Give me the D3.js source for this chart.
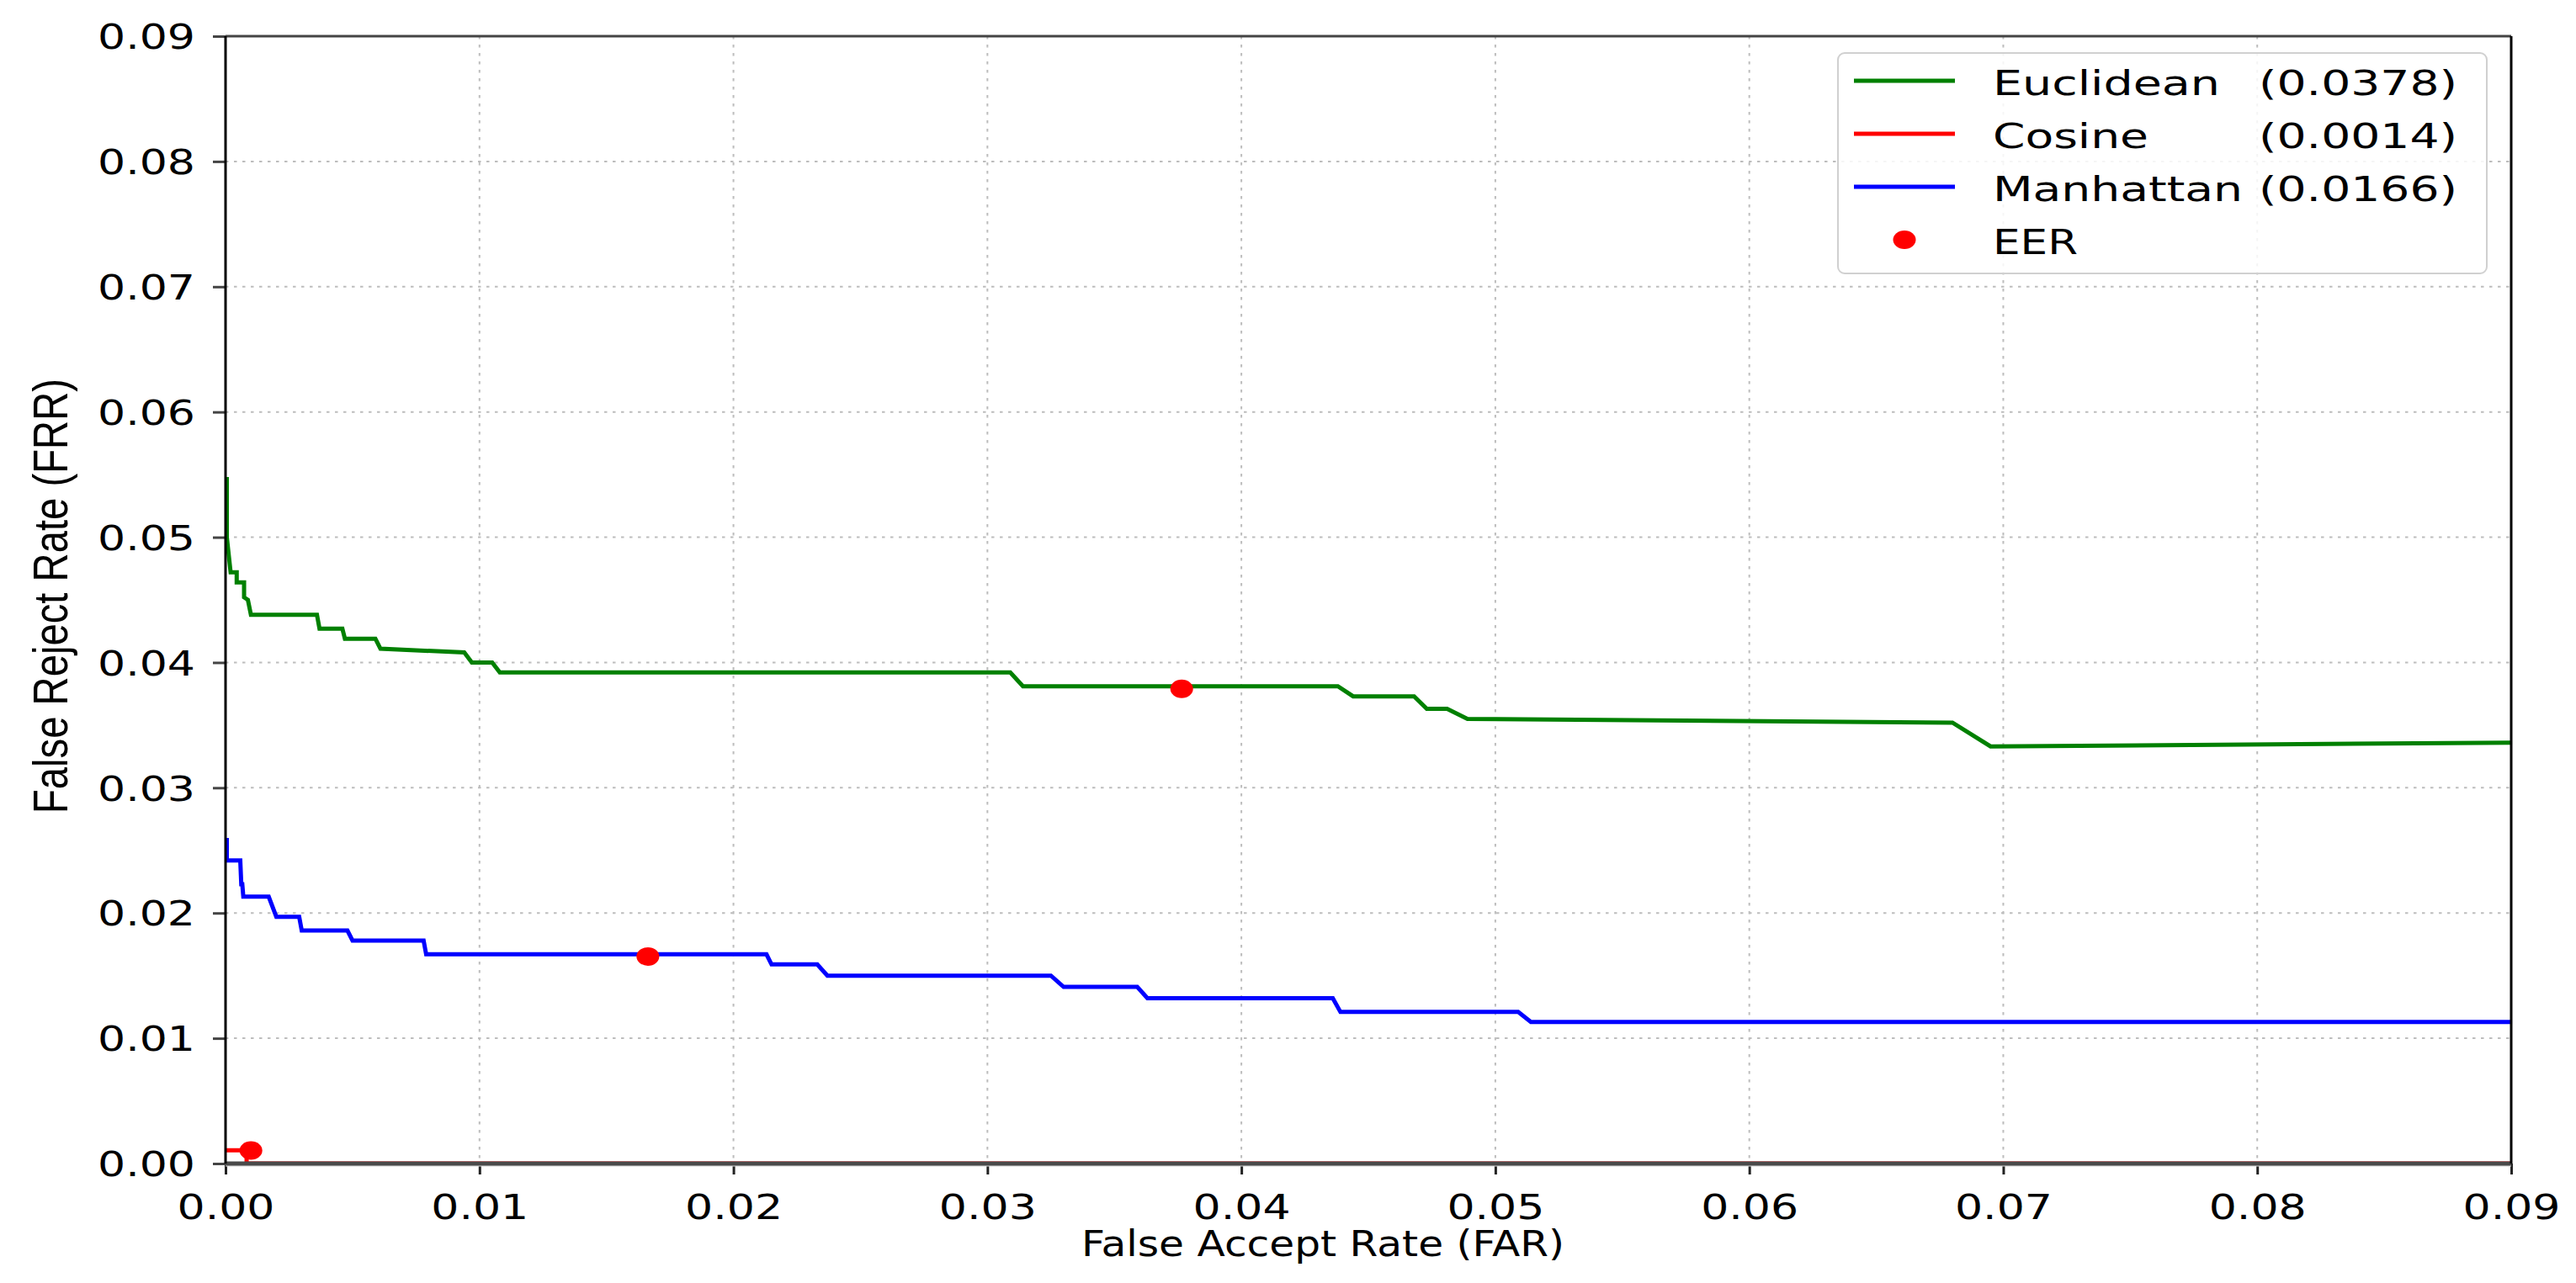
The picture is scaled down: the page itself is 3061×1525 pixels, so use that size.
<!DOCTYPE html>
<html>
<head>
<meta charset="utf-8">
<style>
body { margin: 0; background: #fff; }
.grid line { stroke: #bdbdbd; stroke-width: 2; stroke-dasharray: 3.5,6.5; }
.tick-label { font-family: "DejaVu Sans", sans-serif; font-size: 41px; fill: #000; }
</style>
</head>
<body>
<svg width="3061" height="1525"></svg>
<script src="https://cdn.jsdelivr.net/npm/d3@7"></script>
<script>
// tick values on both axes
var farTicks = [0, 0.01, 0.02, 0.03, 0.04, 0.05, 0.06, 0.07, 0.08, 0.09];
var frrTicks = [0, 0.01, 0.02, 0.03, 0.04, 0.05, 0.06, 0.07, 0.08, 0.09];

// curves: [FAR, FRR]
var euclidean = [[0.00005,0.0548],[0.00005,0.0500],[0.0002,0.0472],[0.00044,0.0472],[0.00044,0.0464],
  [0.00073,0.0464],[0.00073,0.0452],[0.00088,0.0450],[0.0010,0.0438],[0.0036,0.0438],[0.0037,0.0427],
  [0.0046,0.0427],[0.0047,0.0419],[0.0059,0.0419],[0.0061,0.0411],[0.0094,0.0408],[0.0097,0.0400],
  [0.0105,0.0400],[0.0108,0.0392],[0.0309,0.0392],[0.0314,0.0381],[0.0438,0.0381],[0.0444,0.0373],
  [0.0468,0.0373],[0.0473,0.0363],[0.0481,0.0363],[0.0489,0.0355],[0.0680,0.0352],[0.0695,0.0333],
  [0.09,0.0336]];
var cosine = [[0,0.00105],[0.00083,0.00105],[0.00083,0],[0.09,0]];
var manhattan = [[0.00005,0.0260],[0.00005,0.0242],[0.00058,0.0242],[0.00062,0.0223],[0.00066,0.0223],
  [0.00070,0.0213],[0.0017,0.0213],[0.0020,0.0197],[0.0029,0.0197],[0.0030,0.0186],[0.0048,0.0186],
  [0.0050,0.0178],[0.0078,0.0178],[0.0079,0.0167],[0.0213,0.0167],[0.0215,0.0159],[0.0233,0.0159],
  [0.0237,0.0150],[0.0325,0.0150],[0.0330,0.0141],[0.0359,0.0141],[0.0363,0.0132],[0.0436,0.0132],
  [0.0439,0.0121],[0.0509,0.0121],[0.0514,0.0113],[0.09,0.0113]];

var names = ["Euclidean", "Cosine", "Manhattan"];
var eerLabels = ["(0.0378)", "(0.0014)", "(0.0166)"];
var colors = ["#008000", "#ff0000", "#0000ff"];
var eerPoints = [[0.03765, 0.0379], [0.0010, 0.00104], [0.01663, 0.01653]];

var svg = d3.select("svg");
var margin = {left: 268, right: 77, top: 43, bottom: 142};
var width = 3061 - margin.left - margin.right,
    height = 1525 - margin.top - margin.bottom;

var x = d3.scaleLinear().domain([0, 0.09]).range([0, width]);
var y = d3.scaleLinear().domain([0, 0.09]).range([height, 0]);

var g = svg.append("g").attr("transform", "translate(" + margin.left + "," + margin.top + ")");

// grid
var grid = g.append("g").attr("class", "grid");
grid.selectAll("line.v").data(farTicks.slice(1, -1)).enter().append("line")
    .attr("x1", x).attr("x2", x).attr("y1", 0).attr("y2", height);
grid.selectAll("line.h").data(frrTicks.slice(1, -1)).enter().append("line")
    .attr("y1", y).attr("y2", y).attr("x1", 0).attr("x2", width);

// curves
var line = d3.line().x(function(d) { return x(d[0]); }).y(function(d) { return y(d[1]); });
var curves = [euclidean, cosine, manhattan];
g.selectAll("path.curve").data(curves).enter().append("path")
    .attr("class", "curve")
    .attr("d", line)
    .attr("fill", "none")
    .attr("stroke", function(d, i) { return colors[i]; })
    .attr("stroke-width", 5)
    .attr("stroke-linejoin", "miter");

// EER markers
g.selectAll("ellipse.eer").data(eerPoints).enter().append("ellipse")
    .attr("cx", function(d) { return x(d[0]); })
    .attr("cy", function(d) { return y(d[1]); })
    .attr("rx", 13.5).attr("ry", 11)
    .attr("fill", "#ff0000");

// axes (ticks + labels)
var xAxis = g.append("g").attr("transform", "translate(0," + height + ")")
    .call(d3.axisBottom(x).tickValues(farTicks).tickSize(13).tickPadding(24).tickFormat(d3.format(".2f")));
var yAxis = g.append("g")
    .call(d3.axisLeft(y).tickValues(frrTicks).tickSize(15).tickPadding(21).tickFormat(d3.format(".2f")));
[xAxis, yAxis].forEach(function(a) {
  a.select(".domain").remove();
  a.selectAll(".tick line").attr("stroke", "#222").attr("stroke-width", 3);
  a.selectAll(".tick text").attr("class", "tick-label")
      .attr("textLength", 116).attr("lengthAdjust", "spacingAndGlyphs");
});
xAxis.selectAll(".tick text").attr("dy", "0.71em");
yAxis.selectAll(".tick line").attr("stroke", "#444");
yAxis.selectAll(".tick text").attr("dy", "0.36em");

// spines (bottom one sits over the cosine line at FRR = 0)
g.append("line").attr("x1", 0).attr("x2", width).attr("y1", 0).attr("y2", 0).attr("stroke", "#444").attr("stroke-width", 3);
g.append("line").attr("x1", 0).attr("x2", width).attr("y1", height + 2.5).attr("y2", height + 2.5).attr("stroke", "#d4d4d4").attr("stroke-width", 2);
g.append("line").attr("x1", 0).attr("x2", width).attr("y1", height).attr("y2", height).attr("stroke", "#4a4a4a").attr("stroke-width", 5);
g.append("line").attr("x1", 0).attr("x2", 0).attr("y1", 0).attr("y2", height).attr("stroke", "#000").attr("stroke-width", 3);
g.append("line").attr("x1", width).attr("x2", width).attr("y1", 0).attr("y2", height).attr("stroke", "#000").attr("stroke-width", 3);

// axis titles
svg.append("text")
    .attr("x", 1285).attr("y", 1493)
    .attr("font-family", "DejaVu Sans, sans-serif").attr("font-size", 43)
    .attr("textLength", 574).attr("lengthAdjust", "spacingAndGlyphs")
    .text("False Accept Rate (FAR)");
svg.append("text")
    .attr("transform", "translate(80,967) rotate(-90)")
    .attr("font-family", "Liberation Sans Narrow, Liberation Sans, sans-serif").attr("font-size", 57)
    .attr("textLength", 517).attr("lengthAdjust", "spacingAndGlyphs")
    .text("False Reject Rate (FRR)");

// legend
var leg = svg.append("g").attr("transform", "translate(2184,63)");
leg.append("rect").attr("width", 771).attr("height", 262).attr("rx", 8)
    .attr("fill", "#fff").attr("fill-opacity", 0.85).attr("stroke", "#d0d0d0").attr("stroke-width", 2);
var rows = leg.selectAll("g.row").data(names.concat(["EER"])).enter().append("g")
    .attr("transform", function(d, i) { return "translate(0," + (33 + i * 63) + ")"; });
rows.filter(function(d, i) { return i < 3; }).append("line")
    .attr("x1", 19).attr("x2", 139)
    .attr("stroke", function(d, i) { return colors[i]; }).attr("stroke-width", 5);
rows.filter(function(d, i) { return i === 3; }).append("ellipse")
    .attr("cx", 79).attr("rx", 13.5).attr("ry", 11).attr("fill", "#ff0000");
var nameWidths = [270, 185, 297, 101];
rows.append("text").attr("class", "tick-label")
    .attr("x", 184).attr("y", 17)
    .attr("textLength", function(d, i) { return nameWidths[i]; }).attr("lengthAdjust", "spacingAndGlyphs")
    .text(function(d) { return d; });
rows.filter(function(d, i) { return i < 3; }).append("text").attr("class", "tick-label")
    .attr("x", 500).attr("y", 17)
    .attr("textLength", 236).attr("lengthAdjust", "spacingAndGlyphs")
    .text(function(d, i) { return eerLabels[i]; });
</script>
</body>
</html>
